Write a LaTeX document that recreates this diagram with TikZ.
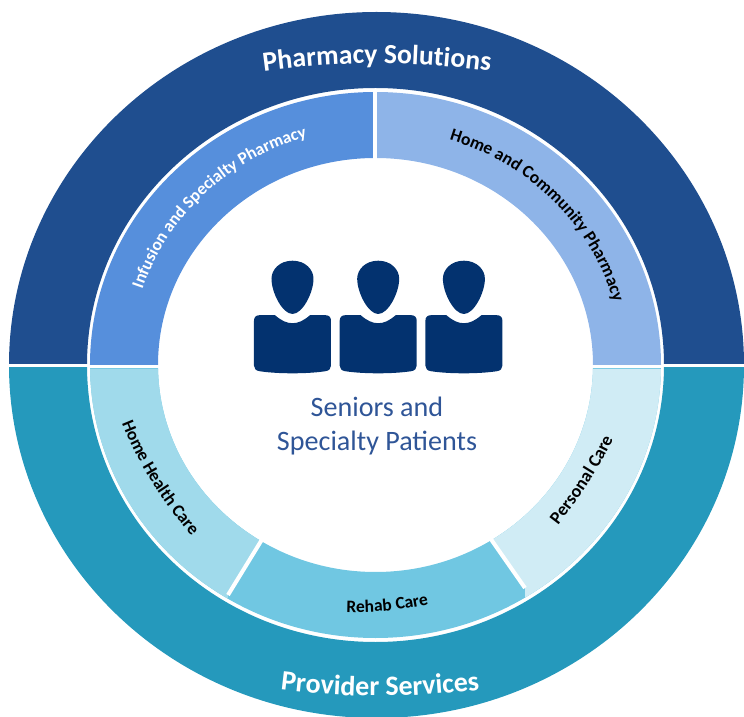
\documentclass[tikz,border=0pt]{standalone}
\usepackage{fontspec}
\setmainfont{Carlito}
\usetikzlibrary{decorations.text}
\definecolor{darkblue}{HTML}{1F4E8F}
\definecolor{midblue}{HTML}{568FDC}
\definecolor{lightblue}{HTML}{8EB4E8}
\definecolor{teal1}{HTML}{2599BC}
\definecolor{pale1}{HTML}{A0DAEB}
\definecolor{pale2}{HTML}{70C7E2}
\definecolor{pale3}{HTML}{D0ECF5}
\definecolor{iconblue}{HTML}{03326F}
\definecolor{labelblue}{HTML}{2F5597}
\tikzset{
  x=1pt,y=1pt,
  gapline/.style={draw=white,line width=4pt},
  curvetext/.style={decorate,decoration={text along path,text align=center,text={#1}}},
  person/.pic={
    \fill[iconblue] (0,0) .. controls (13,0) and (21,-9) .. (21,-18)
      .. controls (21,-32) and (10,-53.3) .. (0,-53.3)
      .. controls (-10,-53.3) and (-21,-32) .. (-21,-18)
      .. controls (-21,-9) and (-13,0) .. (0,0) -- cycle;
    \fill[iconblue] (-33,-54.5) -- (-17.5,-54.5)
      .. controls (-11,-60) and (-6,-62.5) .. (0,-62.5)
      .. controls (6,-62.5) and (11,-60) .. (17.5,-54.5)
      -- (33,-54.5) .. controls (36.5,-54.5) and (38.5,-56.5) .. (38.5,-60)
      -- (38.5,-105) .. controls (38.5,-108) and (36.5,-110) .. (33,-110.5)
      .. controls (15,-113.3) and (-15,-113.3) .. (-33,-110.5)
      .. controls (-36.5,-110) and (-38.5,-108) .. (-38.5,-105)
      -- (-38.5,-60) .. controls (-38.5,-56.5) and (-36.5,-54.5) .. (-33,-54.5) -- cycle;
  }
}
\begin{document}
\begin{tikzpicture}
% origin = pixel (375.5,365), y up
\useasboundingbox (-375.5,-352) rectangle (368.5,365);
% outer band
\begin{scope}
\clip (-376,1.5) rectangle (370,366);
\fill[darkblue,even odd rule] (1,0) ellipse [x radius=367.5,y radius=353] (0,0) ellipse [x radius=288.5,y radius=277];
\end{scope}
\begin{scope}
\clip (-376,-3) rectangle (370,-353);
\fill[teal1,even odd rule] (1,0) ellipse [x radius=367.5,y radius=353] (0,0) ellipse [x radius=288.5,y radius=277];
\end{scope}
% inner ring
\begin{scope}
\clip (-376,0) rectangle (0,366);
\fill[midblue,even odd rule] (0,0) ellipse [x radius=285.5,y radius=273] (0,0) ellipse [x radius=217.5,y radius=207];
\end{scope}
\begin{scope}
\clip (0,0) rectangle (370,366);
\fill[lightblue,even odd rule] (0,0) ellipse [x radius=285.5,y radius=273] (0,0) ellipse [x radius=217.5,y radius=207];
\end{scope}
\begin{scope}
\clip (-376,-4) rectangle (370,-353);
\fill[pale2,even odd rule] (0,0) ellipse [x radius=285.5,y radius=273] (0,0) ellipse [x radius=217.5,y radius=207];
\end{scope}
\begin{scope}
\clip (-376,-4) -- (-113.8,-4) -- (-113.8,-175) -- (-147.5,-230) -- (-147.5,-353) -- (-376,-353) -- cycle;
\fill[pale1,even odd rule] (0,0) ellipse [x radius=285.5,y radius=273] (0,0) ellipse [x radius=217.5,y radius=207];
\end{scope}
\begin{scope}
\clip (370,-4) -- (112.5,-4) -- (112.5,-170) -- (149.5,-223) -- (149.5,-353) -- (370,-353) -- cycle;
\fill[pale3,even odd rule] (0,0) ellipse [x radius=285.5,y radius=273] (0,0) ellipse [x radius=217.5,y radius=207];
\end{scope}
% separators
\coordinate (a1) at (-113.8,-175); \coordinate (a2) at (-147.5,-230);
\coordinate (b1) at (112.5,-170); \coordinate (b2) at (149.5,-223);
\coordinate (c1) at (-0.5,204); \coordinate (c2) at (-0.5,274);
\draw[gapline] (a1) -- (a2);
\draw[gapline] (b1) -- (b2);
\draw[gapline,line width=3.4pt] (c1) -- (c2);
% icons
\pic at (-83,104.3) {person};
\pic at (2.7,104.3) {person};
\pic at (88.4,104.3) {person};
\node[text=labelblue,font=\fontsize{28.1}{28.1}\selectfont,anchor=base] (t1) at (1.5,-52) {Seniors and};
\node[text=labelblue,font=\fontsize{28.1}{28.1}\selectfont,anchor=base] (t2) at (1.5,-85) {Specialty Patients};
% curved labels
\path[curvetext={|\color{white}\bfseries\fontsize{27.7}{27.7}\selectfont|Pharmacy Solutions}] (-113.5,293.5) .. controls (-40,304) and (40,304) .. (116.5,293.5);
\path[curvetext={|\color{white}\bfseries\fontsize{28}{28}\selectfont|Provider Services}] (-94,-325) .. controls (-30,-333) and (35,-333) .. (103,-325);
\path[curvetext={|\color{white}\bfseries\fontsize{17.3}{17.3}\selectfont|Infusion and Specialty Pharmacy}] (-237,63) arc [start angle=165,end angle=103,x radius=245,y radius=235];
\path[curvetext={|\color{black}\bfseries\fontsize{17.6}{17.6}\selectfont|Home and Community Pharmacy}] (68,227) arc [start angle=74,end angle=14,x radius=247,y radius=236];
\path[curvetext={|\color{black}\bfseries\fontsize{17.6}{17.6}\selectfont|Home Health Care}] (-254,-57) .. controls (-238,-98) and (-213,-138) .. (-183,-172);
\path[curvetext={|\color{black}\bfseries\fontsize{17.5}{17.5}\selectfont|Rehab Care}] (-30.5,-247) .. controls (-5,-248) and (25,-246) .. (54.5,-239);
\path[curvetext={|\color{black}\bfseries\fontsize{18}{18}\selectfont|Personal Care}] (182,-161) .. controls (203,-134) and (224,-104) .. (238,-73);
\end{tikzpicture}
\end{document}
